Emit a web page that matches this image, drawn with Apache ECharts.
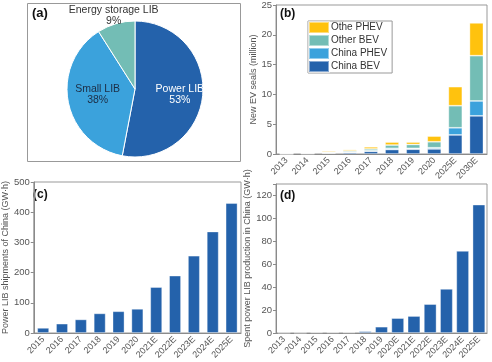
<!DOCTYPE html>
<html><head><meta charset="utf-8">
<script src="https://cdn.jsdelivr.net/npm/echarts@6/dist/echarts.min.js"></script>
<style>html,body{margin:0;padding:0;background:#fff}#c{width:492px;height:362px}</style>
</head><body><div id="c"></div>
<script>
// Panel (a)
const pieNames = ['Power LIB', 'Small LIB', 'Energy storage LIB'];
const pieValues = [53, 38, 9];
// Panel (b)
const yearsB = ['2013','2014','2015','2016','2017','2018','2019','2020','2025E','2030E'];
const chinaBEV  = [0.02,0.05,0.15,0.25,0.45,0.75,0.8,0.85,3.2,6.4];
const chinaPHEV = [0.01,0.02,0.06,0.08,0.1,0.2,0.15,0.2,1.2,2.5];
const otherBEV  = [0.06,0.1,0.14,0.2,0.3,0.55,0.65,1.0,3.7,7.6];
const otherPHEV = [0.11,0.13,0.2,0.22,0.35,0.5,0.4,0.95,3.2,5.5];
// Panel (c)
const yearsC = ['2015','2016','2017','2018','2019','2020','2021E','2022E','2023E','2024E','2025E'];
const shipC = [17,31,45,65,72,80,152,190,256,336,430];
// Panel (d)
const yearsD = ['2013','2014','2015','2016','2017','2018','2019','2020E','2021E','2022E','2023E','2024E','2025E'];
const spentD = [0.1,0.1,0.5,0.5,0.5,1.5,5.5,13,14.8,25.2,38.5,71.6,112];

const C1='#2462AB', C2='#3BA2DC', C3='#73BDB5', C4='#FFC20E';
const F='Liberation Sans, Arial, sans-serif';
const gray='#8a8a8a', txt='#555';
function xAx(idx, data){
  return {type:'category', gridIndex:idx, data:data,
    axisLine:{lineStyle:{color:gray}}, axisTick:{alignWithLabel:true,length:3,lineStyle:{color:gray}},
    axisLabel:{rotate:45, fontSize:9, color:txt, fontFamily:F, margin:5, interval:0}};
}
function yAx(idx, max, interval, name, gap){
  return {type:'value', gridIndex:idx, min:0, max:max, interval:interval,
    name:name, nameLocation:'middle', nameGap:gap, nameRotate:90,
    nameTextStyle:{fontSize:9, color:txt, fontFamily:F},
    splitLine:{show:false}, axisLine:{show:true,lineStyle:{color:gray}},
    axisTick:{show:true,length:3,lineStyle:{color:gray}},
    axisLabel:{fontSize:9.5, color:txt, fontFamily:F, margin:4,
      formatter:function(v){return (v % interval===0)? String(v):'';}}};
}
const chart = echarts.init(document.getElementById('c'), null, {renderer:'canvas'});
const barItem = c => ({color:c, borderColor:'rgba(255,255,255,0.45)', borderWidth:0.8});
chart.setOption({
  animation:false,
  textStyle:{fontFamily:F},
  grid:[
    {left:276, top:4, width:211, height:150, show:true, borderColor:'#999', borderWidth:1},
    {left:28, top:182, width:213, height:151, show:true, borderColor:'#999', borderWidth:1},
    {left:276, top:184, width:211, height:149, show:true, borderColor:'#999', borderWidth:1}
  ],
  xAxis:[xAx(0,yearsB), xAx(1,yearsC), xAx(2,yearsD)],
  yAxis:[yAx(0,25,5,'New EV seals (million)',17),
         yAx(1,500,100,'Power LIB shipments of China (GW·h)',17),
         yAx(2,130,20,'Spent power LIB production in China (GW·h)',20)],
  legend:{left:308, top:21, orient:'vertical', itemWidth:20, itemHeight:11, itemGap:0,
    padding:[0,5,0,0], borderColor:'#999', borderWidth:1, icon:'rect',
    textStyle:{fontSize:10, color:'#333', fontFamily:F, padding:[0,0,0,-3]},
    data:['Othe PHEV','Other BEV','China PHEV','China BEV']},
  graphic:[
    {type:'rect', shape:{x:27.5,y:3.5,width:213,height:158}, style:{fill:'none',stroke:'#999',lineWidth:1}},
    {type:'text', left:32, top:7, style:{text:'(a)', font:'bold 13px '+F, fill:'#111'}},
    {type:'text', left:280, top:8, style:{text:'(b)', font:'bold 12px '+F, fill:'#111'}},
    {type:'text', left:33, top:189, style:{text:'(c)', font:'bold 12px '+F, fill:'#111'}},
    {type:'text', left:280, top:190, style:{text:'(d)', font:'bold 12px '+F, fill:'#111'}}
  ],
  series:[
    {type:'pie', center:[135,89], radius:[0,68], startAngle:90, clockwise:true,
     itemStyle:{borderColor:'#fff', borderWidth:1},
     label:{position:'inside', fontSize:10.5, fontFamily:F, lineHeight:11,
       formatter:p=>p.name+'\n'+p.value+'%'},
     labelLine:{show:false},
     data:[
       {name:pieNames[0], value:pieValues[0], itemStyle:{color:C1}, label:{color:'#fff', offset:[8,2]}},
       {name:pieNames[1], value:pieValues[1], itemStyle:{color:C2}, label:{color:'#1d2d44', offset:[-1,-1]}},
       {name:pieNames[2], value:pieValues[2], itemStyle:{color:C3}, label:{color:'#333', offset:[-11,-38]}}
     ]},
    {type:'bar', name:'China BEV', xAxisIndex:0, yAxisIndex:0, stack:'b', barWidth:'66%', data:chinaBEV, itemStyle:barItem(C1)},
    {type:'bar', name:'China PHEV', xAxisIndex:0, yAxisIndex:0, stack:'b', data:chinaPHEV, itemStyle:barItem(C2)},
    {type:'bar', name:'Other BEV', xAxisIndex:0, yAxisIndex:0, stack:'b', data:otherBEV, itemStyle:barItem(C3)},
    {type:'bar', name:'Othe PHEV', xAxisIndex:0, yAxisIndex:0, stack:'b', data:otherPHEV, itemStyle:barItem(C4)},
    {type:'bar', name:'ship', xAxisIndex:1, yAxisIndex:1, barWidth:'63%', data:shipC, itemStyle:barItem(C1)},
    {type:'bar', name:'spent', xAxisIndex:2, yAxisIndex:2, barWidth:'78%', data:spentD, itemStyle:barItem(C1)}
  ]
});
</script></body></html>
